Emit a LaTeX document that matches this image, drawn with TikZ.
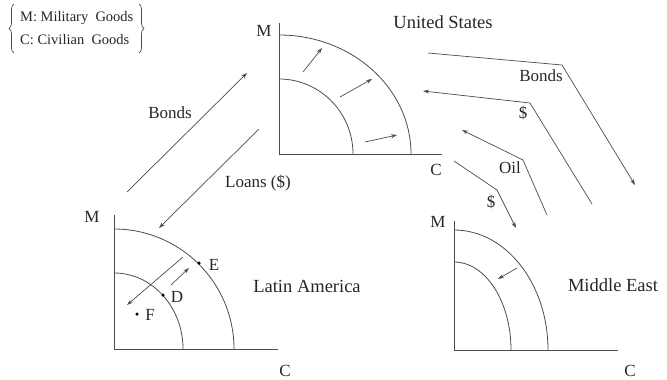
\documentclass[tikz,border=0pt]{standalone}
\usepackage{fontspec}
\setmainfont{Liberation Serif}
\usetikzlibrary{arrows.meta,decorations.pathreplacing}
\begin{document}
\begin{tikzpicture}[x=1pt,y=-1pt,
  axis/.style={draw=black!70, line width=0.8pt},
  ppf/.style={draw=black!70, line width=0.8pt},
  flow/.style={draw=black!70, line width=0.7pt, -{Stealth[length=6pt,width=4pt]}},
  lbl/.style={font=\fontsize{17}{19}\selectfont, inner sep=0pt, text=black!85},
  region/.style={font=\fontsize{18.5}{21}\selectfont, inner sep=0pt, text=black!85},
  legtxt/.style={font=\fontsize{14.5}{17}\selectfont, inner sep=0pt, text=black!85, anchor=west},
  bracestyle/.style={draw=black!70, line width=0.7pt, decorate, decoration={brace, amplitude=5pt}},
  dot/.style={circle, fill=black, inner sep=0pt, minimum size=3.5pt}]
\useasboundingbox (0,0) rectangle (667,380);
% legend
\node[legtxt] (leg1) at (20,18) {M: Military\ \ Goods};
\node[legtxt] (leg2) at (20,40) {C: Civilian\ \ Goods};
\coordinate (lbTop) at (14,4); \coordinate (lbBot) at (14,53);
\coordinate (rbTop) at (139,4); \coordinate (rbBot) at (139,53);
\draw[bracestyle] (lbBot) -- (lbTop);
\draw[bracestyle] (rbTop) -- (rbBot);
% United States
\coordinate (usY) at (279,23);
\coordinate (usO) at (279,154);
\coordinate (usX) at (442,154);
\draw[axis] (usY) -- (usO) -- (usX);
\draw[ppf] (279,35) arc[start angle=90,end angle=0,x radius=132pt,y radius=119pt];
\draw[ppf] (279,79) arc[start angle=90,end angle=0,x radius=74pt,y radius=75pt];
\coordinate (us1a) at (303,72); \coordinate (us1b) at (322,48);
\coordinate (us2a) at (340,97); \coordinate (us2b) at (372,79);
\coordinate (us3a) at (365,142); \coordinate (us3b) at (397,135);
\draw[flow] (us1a) -- (us1b);
\draw[flow] (us2a) -- (us2b);
\draw[flow] (us3a) -- (us3b);
\node[lbl] (usM) at (264,31) {M};
\node[lbl] (usC) at (436,170) {C};
\node[region] (us) at (443,22) {United States};
% Latin America
\coordinate (laY) at (114,215);
\coordinate (laO) at (114,349);
\coordinate (laX) at (278,349);
\draw[axis] (laY) -- (laO) -- (laX);
\draw[ppf] (114,229) arc[start angle=90,end angle=0,x radius=120pt,y radius=120pt];
\draw[ppf] (114,273) arc[start angle=90,end angle=0,x radius=69pt,y radius=76pt];
\node[lbl] (laM) at (92,217) {M};
\node[lbl] (laC) at (285,371) {C};
\node[dot] (E) at (199,263) {};
\node[dot] (D) at (163,295) {};
\node[dot] (F) at (137,314) {};
\node[lbl] (Elbl) at (214,265) {E};
\node[lbl] (Dlbl) at (177,297) {D};
\node[lbl] (Flbl) at (150,315) {F};
\coordinate (la1a) at (183,257); \coordinate (la1b) at (127,305);
\coordinate (la2a) at (171,285); \coordinate (la2b) at (189,268);
\draw[flow] (la1a) -- (la1b);
\draw[flow] (la2a) -- (la2b);
\node[region] (la) at (307,286) {Latin America};
% Middle East
\coordinate (meY) at (454,221);
\coordinate (meO) at (454,350);
\coordinate (meX) at (618,350);
\draw[axis] (meY) -- (meO) -- (meX);
\draw[ppf] (454,230) arc[start angle=90,end angle=0,x radius=94pt,y radius=120pt];
\draw[ppf] (454,262) arc[start angle=90,end angle=0,x radius=57pt,y radius=88pt];
\coordinate (me1a) at (517,268); \coordinate (me1b) at (498,279);
\draw[flow] (me1a) -- (me1b);
\node[lbl] (meM) at (438,222) {M};
\node[lbl] (meC) at (630,371) {C};
\node[region] (me) at (613,285) {Middle East};
% flows between US and Latin America
\coordinate (b1a) at (127,192); \coordinate (b1b) at (247,73);
\draw[flow] (b1a) -- (b1b);
\node[lbl] (bonds1) at (170,113) {Bonds};
\coordinate (l1a) at (259,129); \coordinate (l1b) at (159,228);
\draw[flow] (l1a) -- (l1b);
\node[lbl] (loans) at (258,183) {Loans (\$)};
% flows between US and Middle East
\coordinate (b2a) at (428,53); \coordinate (b2c) at (562,65); \coordinate (b2b) at (635,185);
\draw[flow] (b2a) -- (b2c) -- (b2b);
\node[lbl] (bonds2) at (541,76) {Bonds};
\coordinate (d1a) at (592,204); \coordinate (d1c) at (530,103); \coordinate (d1b) at (423,91);
\draw[flow] (d1a) -- (d1c) -- (d1b);
\node[lbl] (dol1) at (523,113) {\$};
\coordinate (o1a) at (547,215); \coordinate (o1c) at (523,160); \coordinate (o1b) at (462,130);
\draw[flow] (o1a) -- (o1c) -- (o1b);
\node[lbl] (oil) at (510,168) {Oil};
\coordinate (d2a) at (454,161); \coordinate (d2c) at (497,190); \coordinate (d2b) at (516,228);
\draw[flow] (d2a) -- (d2c) -- (d2b);
\node[lbl] (dol2) at (491,202) {\$};
\end{tikzpicture}
\end{document}
